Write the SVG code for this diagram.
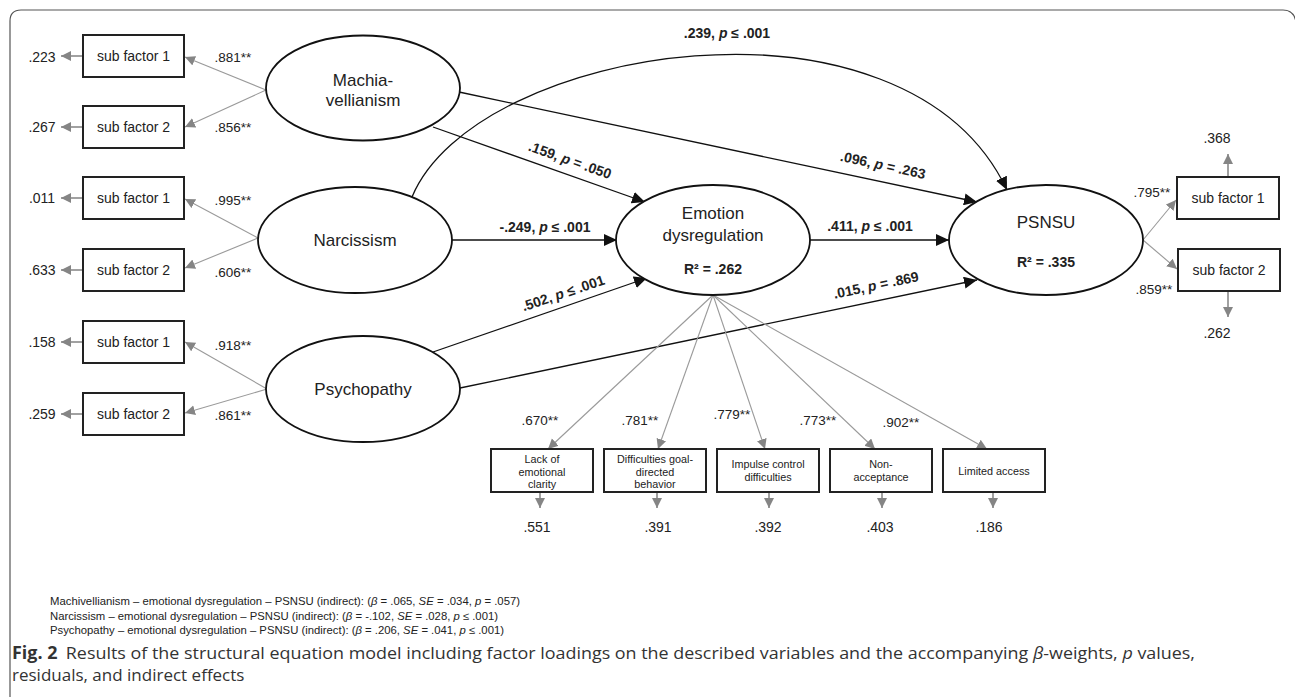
<svg xmlns="http://www.w3.org/2000/svg" width="1295" height="697" viewBox="0 0 1295 697">
<style>
.box{fill:#fff;stroke:#222;stroke-width:2}
.ell{fill:#fff;stroke:#111;stroke-width:1.8}
.t{font-family:"Liberation Sans",Arial,sans-serif;fill:#222}
.sf{font-size:14px;text-anchor:middle}
.nm{font-size:17px;text-anchor:middle}
.r2{font-size:14px;font-weight:bold;text-anchor:middle}
.el{font-size:14px;font-weight:bold;text-anchor:middle}
.ld{font-size:13.5px;text-anchor:middle}
.rs{font-size:14px;text-anchor:middle}
.sm{font-size:10.8px;text-anchor:middle}
.edge{stroke:#111;stroke-width:1.3;fill:none;marker-end:url(#ah)}
.load{stroke:#9a9a9a;stroke-width:1.1;fill:none;marker-end:url(#gh)}
.res{stroke:#8a8a8a;stroke-width:1.6;fill:none;marker-end:url(#gh)}
.ind{font-family:"Liberation Sans",Arial,sans-serif;font-size:11px;fill:#222}
.cap{font-family:"Open Sans","Noto Sans",sans-serif;font-size:17px;fill:#333}
</style>
<defs>
<marker id="ah" markerWidth="14" markerHeight="12" refX="13" refY="6" orient="auto" markerUnits="userSpaceOnUse"><path d="M0,0 L13,6 L0,12 z" fill="#111"/></marker>
<marker id="gh" markerWidth="11" markerHeight="11" refX="10" refY="5" orient="auto" markerUnits="userSpaceOnUse"><path d="M0,0 L10,5 L0,10 z" fill="#858585"/></marker>
</defs>
<rect width="1295" height="697" fill="#fff"/>
<path d="M10,697 V21 Q10,10 21,10 H1283 Q1294,10 1296,22" fill="none" stroke="#555" stroke-width="1.2"/>

<g id="connectors">
  <!-- structural paths -->
  <path class="edge" d="M433,127 L645,202"/>
  <path class="edge" d="M459,92 L977,202"/>
  <path class="edge" d="M452,240 L617,240"/>
  <path class="edge" d="M412,197 C475,45 905,-25 1007,190"/>
  <path class="edge" d="M433,352 L647,278"/>
  <path class="edge" d="M460,388 L977,280"/>
  <path class="edge" d="M810,240 L949,240"/>
  <!-- loadings left -->
  <path class="load" d="M266,90 L185,57"/>
  <path class="load" d="M266,90 L185,127"/>
  <path class="load" d="M258,238 L185,199"/>
  <path class="load" d="M258,238 L185,268"/>
  <path class="load" d="M267,389 L185,342"/>
  <path class="load" d="M267,389 L185,413"/>
  <!-- loadings PSNSU -->
  <path class="load" d="M1143,240 L1176,200"/>
  <path class="load" d="M1143,240 L1177,269"/>
  <!-- loadings emotion dysregulation -->
  <path class="load" d="M713,295 L548,449"/>
  <path class="load" d="M713,295 L658,449"/>
  <path class="load" d="M713,295 L765,449"/>
  <path class="load" d="M713,295 L875,449"/>
  <path class="load" d="M713,295 L987,449"/>
  <!-- residuals -->
  <path class="res" d="M83,56 H61"/>
  <path class="res" d="M83,127 H61"/>
  <path class="res" d="M83,198 H61"/>
  <path class="res" d="M83,270 H61"/>
  <path class="res" d="M83,342 H61"/>
  <path class="res" d="M83,414 H61"/>
  <path class="res" d="M1228,177 V154"/>
  <path class="res" d="M1228,291 V317"/>
  <path class="res" d="M540,492 V508"/>
  <path class="res" d="M657,492 V508"/>
  <path class="res" d="M769,492 V508"/>
  <path class="res" d="M882,492 V508"/>
  <path class="res" d="M993,492 V508"/>
</g>

<g id="edge-labels" class="t">
  <text class="el" x="727" y="38">.239, <tspan font-style="italic">p</tspan> ≤ .001</text>
  <text class="el" transform="translate(570,160) rotate(19.5)" y="5">.159, <tspan font-style="italic">p</tspan> = .050</text>
  <text class="el" x="545" y="232">-.249, <tspan font-style="italic">p</tspan> ≤ .001</text>
  <text class="el" transform="translate(563,293) rotate(-18.4)" y="5">.502, <tspan font-style="italic">p</tspan> ≤ .001</text>
  <text class="el" transform="translate(883,165) rotate(12.2)" y="5">.096, <tspan font-style="italic">p</tspan> = .263</text>
  <text class="el" x="870" y="231">.411, <tspan font-style="italic">p</tspan> ≤ .001</text>
  <text class="el" transform="translate(876,285) rotate(-11.8)" y="5">.015, <tspan font-style="italic">p</tspan> = .869</text>
  <!-- loadings -->
  <text class="ld" x="233" y="62">.881**</text>
  <text class="ld" x="233" y="132">.856**</text>
  <text class="ld" x="233" y="205">.995**</text>
  <text class="ld" x="233" y="277">.606**</text>
  <text class="ld" x="233" y="350">.918**</text>
  <text class="ld" x="233" y="420">.861**</text>
  <text class="ld" x="1152" y="197">.795**</text>
  <text class="ld" x="1154" y="294">.859**</text>
  <text class="ld" x="540" y="425">.670**</text>
  <text class="ld" x="640" y="425">.781**</text>
  <text class="ld" x="732" y="419">.779**</text>
  <text class="ld" x="818" y="425">.773**</text>
  <text class="ld" x="901" y="427">.902**</text>
  <!-- residuals -->
  <text class="rs" x="42" y="62">.223</text>
  <text class="rs" x="42" y="132">.267</text>
  <text class="rs" x="42" y="203">.011</text>
  <text class="rs" x="42" y="275">.633</text>
  <text class="rs" x="42" y="347">.158</text>
  <text class="rs" x="42" y="419">.259</text>
  <text class="rs" x="1217" y="143">.368</text>
  <text class="rs" x="1217" y="338">.262</text>
  <text class="rs" x="537" y="532">.551</text>
  <text class="rs" x="658" y="532">.391</text>
  <text class="rs" x="768" y="532">.392</text>
  <text class="rs" x="880" y="532">.403</text>
  <text class="rs" x="989" y="532">.186</text>
</g>

<g id="machiavellianism" class="t">
  <ellipse class="ell" cx="363" cy="88" rx="97" ry="52.5"/>
  <text class="nm" x="363" y="86">Machia-</text>
  <text class="nm" x="363" y="106">vellianism</text>
</g>
<g id="narcissism" class="t">
  <ellipse class="ell" cx="355" cy="240" rx="97" ry="53"/>
  <text class="nm" x="355" y="246">Narcissism</text>
</g>
<g id="psychopathy" class="t">
  <ellipse class="ell" cx="363" cy="389" rx="97" ry="53"/>
  <text class="nm" x="363" y="395">Psychopathy</text>
</g>
<g id="emotion-dysregulation" class="t">
  <ellipse class="ell" cx="713" cy="240" rx="97" ry="55"/>
  <text class="nm" x="713" y="219">Emotion</text>
  <text class="nm" x="713" y="241">dysregulation</text>
  <text class="r2" x="713" y="274">R² = .262</text>
</g>
<g id="psnsu" class="t">
  <ellipse class="ell" cx="1046" cy="240" rx="97" ry="55"/>
  <text class="nm" x="1046" y="228">PSNSU</text>
  <text class="r2" x="1046" y="267">R² = .335</text>
</g>

<g id="mach-sub1" class="t"><rect class="box" x="83" y="35" width="101" height="42"/><text class="sf" x="133.5" y="61">sub factor 1</text></g>
<g id="mach-sub2" class="t"><rect class="box" x="83" y="106" width="101" height="42"/><text class="sf" x="133.5" y="132">sub factor 2</text></g>
<g id="narc-sub1" class="t"><rect class="box" x="83" y="177" width="101" height="42"/><text class="sf" x="133.5" y="203">sub factor 1</text></g>
<g id="narc-sub2" class="t"><rect class="box" x="83" y="249" width="101" height="42"/><text class="sf" x="133.5" y="275">sub factor 2</text></g>
<g id="psych-sub1" class="t"><rect class="box" x="83" y="321" width="101" height="42"/><text class="sf" x="133.5" y="347">sub factor 1</text></g>
<g id="psych-sub2" class="t"><rect class="box" x="83" y="393" width="101" height="42"/><text class="sf" x="133.5" y="419">sub factor 2</text></g>
<g id="psnsu-sub1" class="t"><rect class="box" x="1177" y="177" width="102" height="42"/><text class="sf" x="1228" y="203">sub factor 1</text></g>
<g id="psnsu-sub2" class="t"><rect class="box" x="1178" y="249" width="102" height="42"/><text class="sf" x="1229" y="275">sub factor 2</text></g>

<g id="lack-clarity" class="t"><rect class="box" x="491" y="449" width="102" height="43"/>
  <text class="sm" x="542" y="463">Lack of</text><text class="sm" x="542" y="476">emotional</text><text class="sm" x="542" y="488">clarity</text></g>
<g id="difficulties-goal" class="t"><rect class="box" x="604" y="449" width="102" height="43"/>
  <text class="sm" x="655" y="463">Difficulties goal-</text><text class="sm" x="655" y="476">directed</text><text class="sm" x="655" y="488">behavior</text></g>
<g id="impulse-control" class="t"><rect class="box" x="717" y="449" width="102" height="43"/>
  <text class="sm" x="768" y="468">Impulse control</text><text class="sm" x="768" y="481">difficulties</text></g>
<g id="non-acceptance" class="t"><rect class="box" x="830" y="449" width="102" height="43"/>
  <text class="sm" x="881" y="468">Non-</text><text class="sm" x="881" y="481">acceptance</text></g>
<g id="limited-access" class="t"><rect class="box" x="943" y="449" width="102" height="43"/>
  <text class="sm" x="994" y="475">Limited access</text></g>

<g id="notes">
  <text class="ind" x="50" y="605" textLength="470" lengthAdjust="spacingAndGlyphs">Machivellianism – emotional dysregulation – PSNSU (indirect): (<tspan font-style="italic">β</tspan> = .065, <tspan font-style="italic">SE</tspan> = .034, <tspan font-style="italic">p</tspan> = .057)</text>
  <text class="ind" x="50" y="619.5" textLength="448" lengthAdjust="spacingAndGlyphs">Narcissism – emotional dysregulation – PSNSU (indirect): (<tspan font-style="italic">β</tspan> = -.102, <tspan font-style="italic">SE</tspan> = .028, <tspan font-style="italic">p</tspan> ≤ .001)</text>
  <text class="ind" x="50" y="634" textLength="454" lengthAdjust="spacingAndGlyphs">Psychopathy – emotional dysregulation – PSNSU (indirect): (<tspan font-style="italic">β</tspan> = .206, <tspan font-style="italic">SE</tspan> = .041, <tspan font-style="italic">p</tspan> ≤ .001)</text>
  <text class="cap" x="12" y="659" textLength="1183" lengthAdjust="spacingAndGlyphs"><tspan font-weight="bold">Fig. 2</tspan><tspan dx="8">Results of the structural equation model including factor loadings on the described variables and the accompanying </tspan><tspan font-style="italic">β</tspan>-weights, <tspan font-style="italic">p</tspan> values,</text>
  <text class="cap" x="12" y="681">residuals, and indirect effects</text>
</g>
</svg>
